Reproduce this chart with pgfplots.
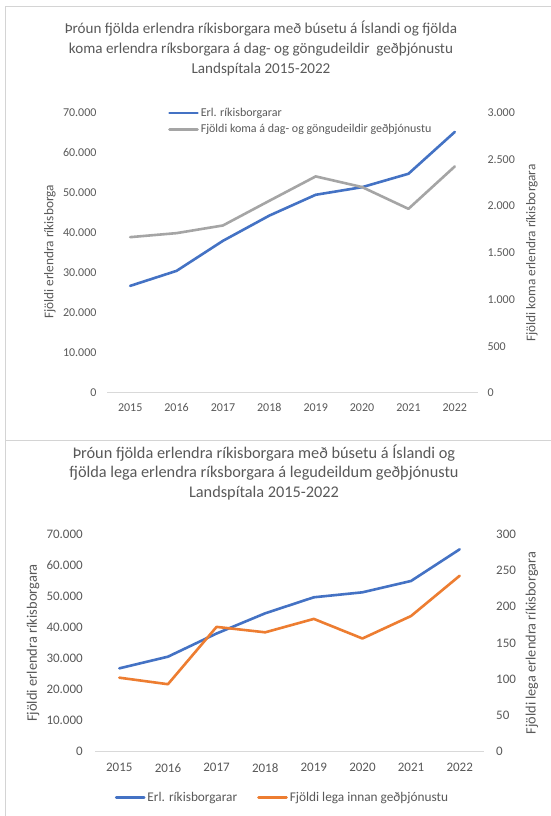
\documentclass[border=0pt]{standalone}
\usepackage{pgfplots}
\pgfplotsset{compat=1.18}
\usepackage{fontspec}
\setmainfont{Carlito}
\definecolor{txt}{HTML}{595959}
\definecolor{axl}{HTML}{D9D9D9}
\definecolor{bord}{HTML}{D4D4D4}
\definecolor{cblue}{HTML}{4472C4}
\definecolor{cgray}{HTML}{A5A5A5}
\definecolor{corange}{HTML}{ED7D31}
\pgfplotsset{
  base/.style={
    scale only axis, xmin=2014.5, xmax=2022.5, ymin=0,
    xtick={2015,2016,2017,2018,2019,2020,2021,2022},
    xticklabels={2015,2016,2017,2018,2019,2020,2021,2022},
    major tick length=0pt, tick style={draw=none},
    tick label style={font=\fontsize{12}{14}\selectfont, text=txt},
    scaled y ticks=false, clip=false,
    legend image code/.code={\draw[##1] (0pt,0pt) -- (28pt,0pt);},
  },
  ln/.style={line width=2.6pt, line join=round, line cap=round},
}
\begin{document}
\begin{tikzpicture}
\useasboundingbox (0,0) rectangle (551pt,816pt);
\fill[white] (0,0) rectangle (551pt,816pt);
% panel borders
\draw[bord, line width=1pt] (5pt,0pt) -- (5pt,809pt) -- (551pt,809pt);
\draw[bord, line width=1pt] (5pt,375pt) -- (551pt,375pt);
% titles
\node[align=center, text=txt, font=\fontsize{15.1}{19.7}\selectfont] at (261pt,767.5pt)
  {Þróun fjölda erlendra ríkisborgara með búsetu á Íslandi og fjölda\\
   koma erlendra ríksborgara á dag- og göngudeildir~ geðþjónustu\\
   Landspítala 2015-2022};
\node[align=center, text=txt, font=\fontsize{16.3}{19.6}\selectfont] at (264pt,343.5pt)
  {Þróun fjölda erlendra ríkisborgara með búsetu á Íslandi og\\
   fjölda lega erlendra ríksborgara á legudeildum geðþjónustu\\
   Landspítala 2015-2022};
% axis titles
\node[rotate=90, text=txt, font=\fontsize{13.3}{15}\selectfont] at (50pt,564pt) {Fjöldi erlendra ríkisborga};
\node[rotate=90, text=txt, font=\fontsize{13.3}{15}\selectfont] at (532pt,563pt) {Fjöldi koma erlendra ríkisborgara};
\node[rotate=90, text=txt, font=\fontsize{14.5}{16}\selectfont] at (33pt,173pt) {Fjöldi erlendra ríkisborgara};
\node[rotate=90, text=txt, font=\fontsize{14.3}{16}\selectfont] at (532pt,173pt) {Fjöldi lega erlendra ríkisborgara};

% ---------- top chart ----------
\begin{axis}[base, at={(107pt,423pt)}, anchor=south west, width=371pt, height=280.3pt,
  ymax=70000, ytick={0,10000,20000,30000,40000,50000,60000,70000},
  yticklabels={0,10.000,20.000,30.000,40.000,50.000,60.000,70.000},
  axis x line*=bottom, axis y line*=left,
  x axis line style={axl, line width=1pt, -}, y axis line style={draw=none},
  yticklabel style={xshift=-7pt}, xticklabel style={yshift=-7pt}]
\addplot[cblue, ln] coordinates {(2015,26750) (2016,30500) (2017,38000) (2018,44300) (2019,49500) (2020,51400) (2021,54750) (2022,65200)};
\end{axis}
\begin{axis}[base, at={(107pt,423pt)}, anchor=south west, width=371pt, height=280.3pt,
  ymax=3000, ytick={0,500,1000,1500,2000,2500,3000},
  yticklabels={0,500,1.000,1.500,2.000,2.500,3.000},
  axis x line=none, axis y line*=right, y axis line style={draw=none},
  yticklabel style={xshift=6pt},
  legend style={at={(axis description cs:0.1644,1.024)}, anchor=north west, draw=none, fill=none,
    font=\fontsize{12}{14}\selectfont, text=txt, inner sep=0pt, row sep=2.5pt},
  legend cell align=left]
\addlegendimage{cblue, ln}
\addlegendentry{Erl. ríkisborgarar}
\addplot[cgray, ln] coordinates {(2015,1668) (2016,1711) (2017,1793) (2018,2057) (2019,2318) (2020,2204) (2021,1971) (2022,2425)};
\addlegendentry{Fjöldi koma á dag- og göngudeildir geðþjónustu}
\end{axis}

% ---------- bottom chart ----------
\begin{axis}[base, at={(95pt,64.3pt)}, anchor=south west, width=389pt, height=217.7pt,
  tick label style={font=\fontsize{13}{15}\selectfont, text=txt},
  ymax=70000, ytick={0,10000,20000,30000,40000,50000,60000,70000},
  yticklabels={0,10.000,20.000,30.000,40.000,50.000,60.000,70.000},
  axis x line*=bottom, axis y line*=left,
  x axis line style={axl, line width=1pt, -}, y axis line style={draw=none},
  yticklabel style={xshift=-8.7pt}, xticklabel style={yshift=-8pt}]
\addplot[cblue, ln] coordinates {(2015,26800) (2016,30550) (2017,38000) (2018,44500) (2019,49650) (2020,51250) (2021,54900) (2022,65080)};
\end{axis}
\begin{axis}[base, at={(95pt,64.3pt)}, anchor=south west, width=389pt, height=217.7pt,
  tick label style={font=\fontsize{13}{15}\selectfont, text=txt},
  ymax=300, ytick={0,50,100,150,200,250,300},
  yticklabels={0,50,100,150,200,250,300},
  axis x line=none, axis y line*=right, y axis line style={draw=none},
  yticklabel style={xshift=8.7pt},
  legend style={at={(axis description cs:0.482,-0.211)}, anchor=center, draw=none, fill=none,
    font=\fontsize{13.3}{15}\selectfont, text=txt, inner sep=0pt,
    /tikz/every even column/.append style={column sep=18pt}},
  legend columns=2, legend cell align=left]
\addlegendimage{cblue, ln}
\addlegendentry{Erl. ríkisborgarar}
\addplot[corange, ln] coordinates {(2015,102) (2016,93) (2017,172) (2018,164.5) (2019,183) (2020,156) (2021,187) (2022,242.5)};
\addlegendentry{Fjöldi lega innan geðþjónustu}
\end{axis}
\end{tikzpicture}
\end{document}
